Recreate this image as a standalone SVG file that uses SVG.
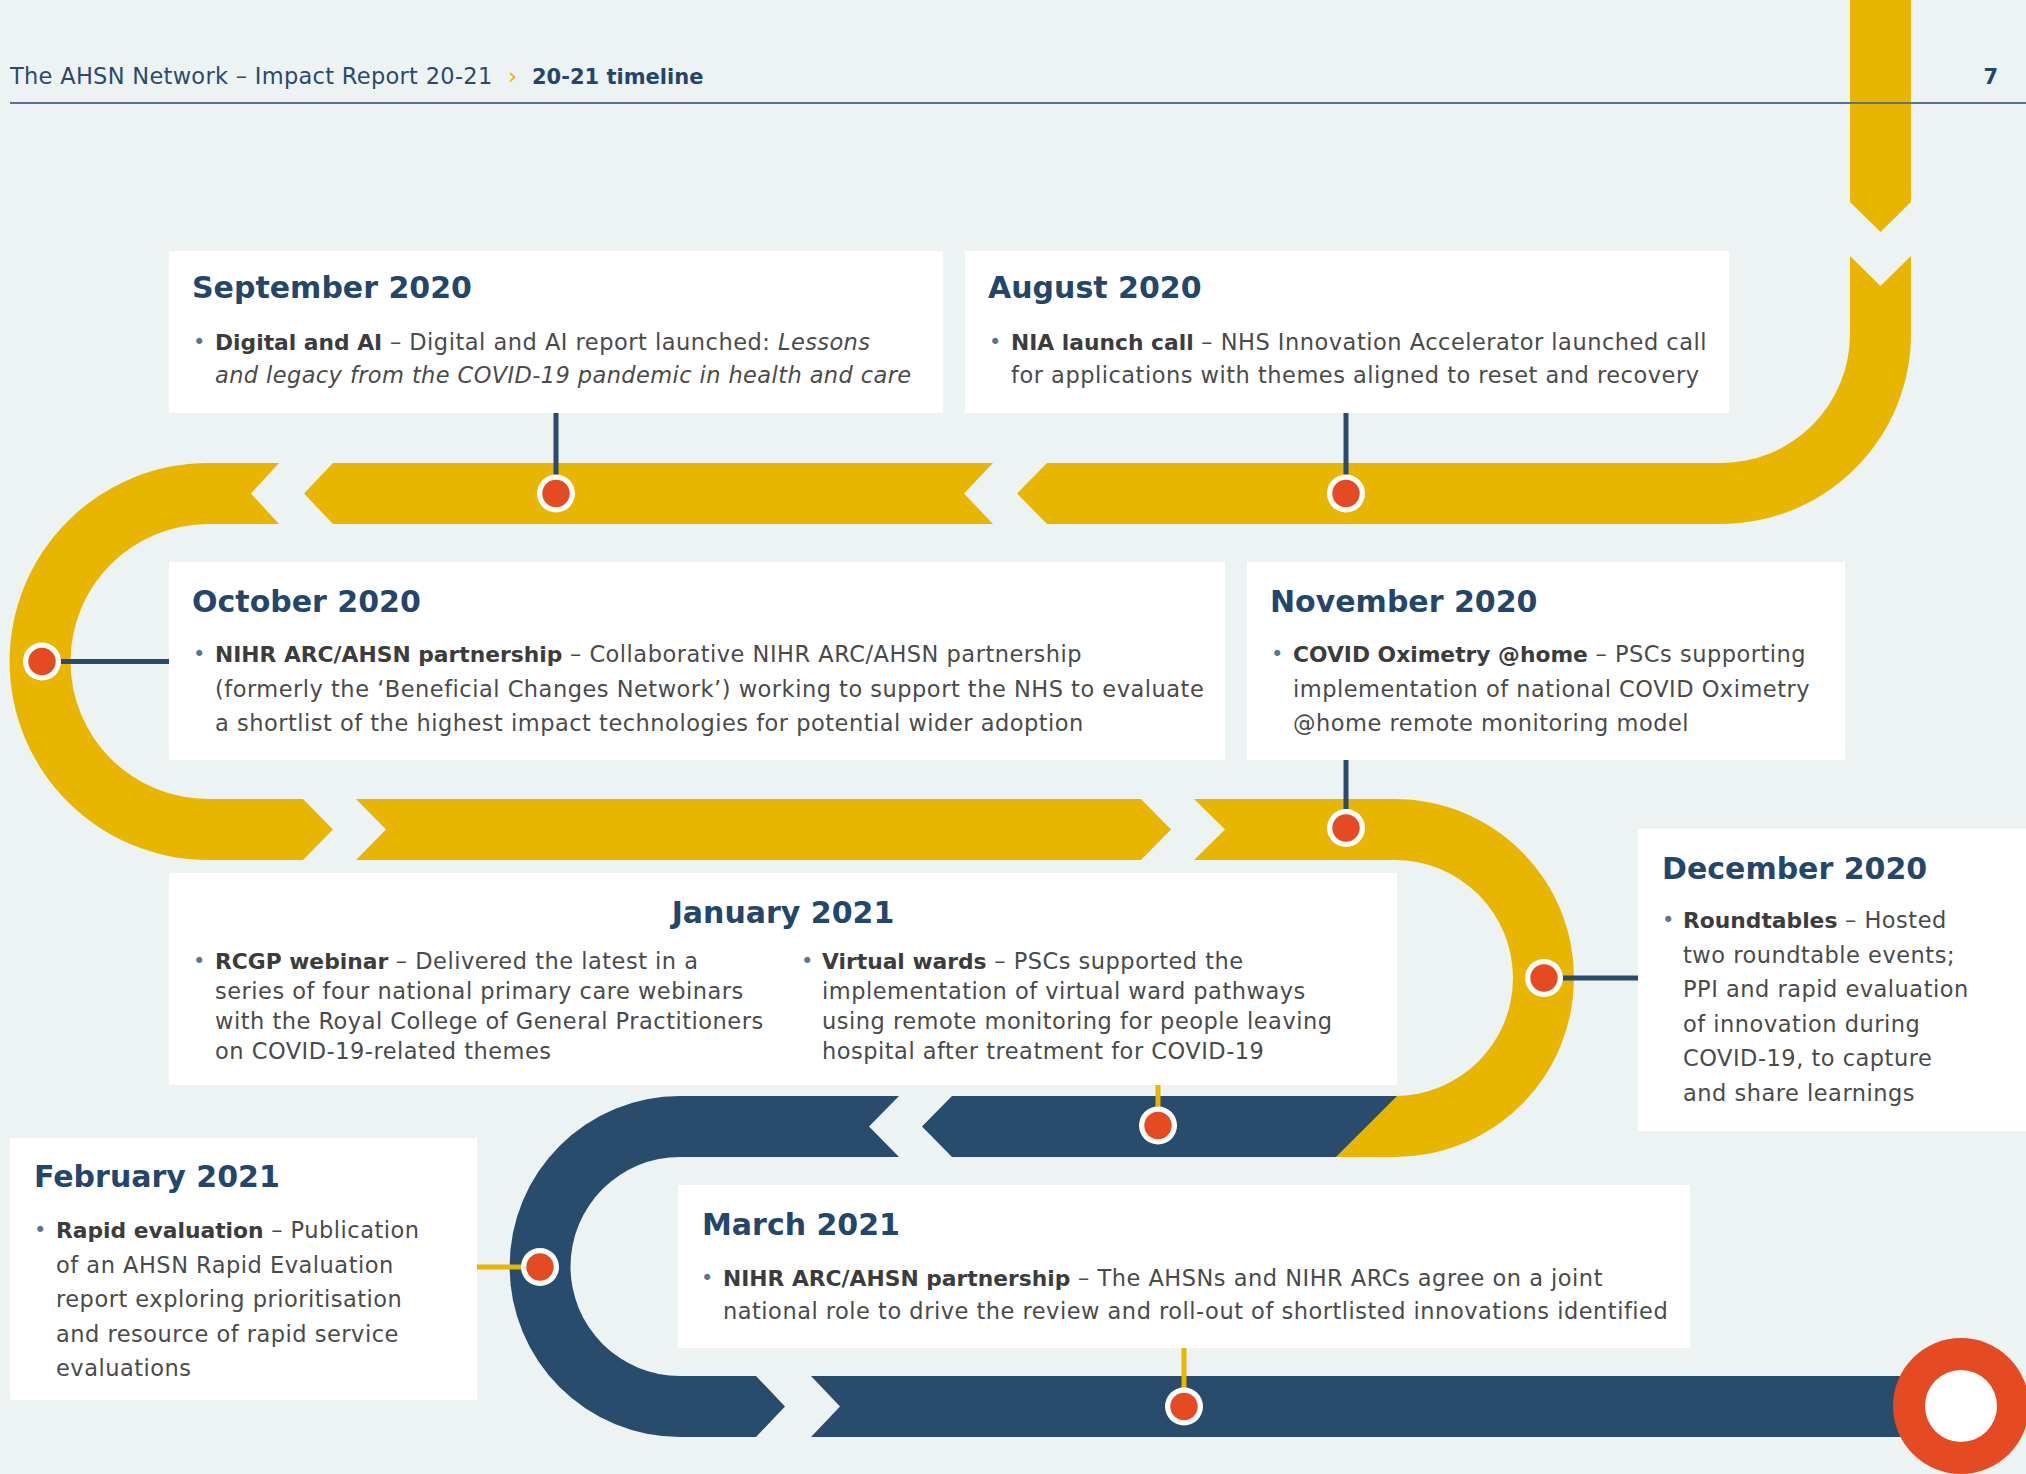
<svg xmlns="http://www.w3.org/2000/svg" width="2026" height="1474" viewBox="0 0 2026 1474">
  <style>
    .bg { fill: #EDF3F3; }
    .yl { fill: #E8B500; }
    .nv { fill: #294B6C; }
    .box { fill: #FFFFFF; }
    .cn { stroke: #294B6C; stroke-width: 5; fill: none; }
    .cy { stroke: #E8B500; stroke-width: 5; fill: none; }
    .dot-o { fill: #FFFFFF; }
    .dot-i { fill: #E54B22; }
    text { font-family: "DejaVu Sans", "Open Sans", sans-serif; }
    .hdr { font-size: 22.5px; letter-spacing: 0.3px; fill: #2B4A6B; }
    .hdrb { font-size: 21px; font-weight: bold; fill: #24466A; }
    .title { font-size: 30px; font-weight: bold; fill: #24466A; }
    .body { font-size: 22.5px; letter-spacing: 0.5px; fill: #4A4A4A; }
    .b { font-size: 21.8px; letter-spacing: 0; font-weight: bold; fill: #3C3C3C; }
    .i { font-style: italic; letter-spacing: 0.4px; }
    .bul { font-size: 21px; fill: #5C7591; }
  </style>

  <rect class="bg" x="0" y="0" width="2026" height="1474"/>

  <!-- timeline track -->
  <g id="track">
    <path class="yl" d="M1850,0 H1911 V202 L1880.5,232 L1850,202 Z"/>
    <path class="yl" d="M1850,256 L1880.5,286 L1911,256 V334 A190,190 0 0 1 1721,524 H1047 L1017,493.5 L1047,463 H1721 A129,129 0 0 0 1850,334 Z"/>
    <path class="yl" d="M993,463 L964,493.5 L993,524 H333 L304,493.5 L333,463 Z"/>
    <path class="yl" d="M279,463 L251,493.5 L279,524 H208 A137.5,137.5 0 0 0 208,799 H303 L333,829.5 L303,860 H208 A198.5,198.5 0 0 1 208,463 Z"/>
    <path class="yl" d="M356,799 L386,829.5 L356,860 H1141 L1171,829.5 L1141,799 Z"/>
    <path class="yl" d="M1194,799 L1225,829.5 L1194,860 H1395 A118,118 0 0 1 1395,1096 L1336,1157 H1395 A179,179 0 0 0 1395,799 Z"/>
    <path class="nv" d="M1397,1096 L1336,1157 H952 L922,1126.5 L952,1096 Z"/>
    <path class="nv" d="M899,1096 L869,1126.5 L899,1157 H680 A109.5,109.5 0 0 0 680,1376 H756 L785,1406.5 L756,1437 H680 A170.5,170.5 0 0 1 680,1096 Z"/>
    <path class="nv" d="M811,1376 L840,1406.5 L811,1437 H1961 V1376 Z"/>
    <circle cx="1961" cy="1406" r="68" fill="#E54B22"/>
    <circle cx="1961" cy="1406" r="36" fill="#FFFFFF"/>
  </g>

  <!-- header -->
  <g id="header">
    <text class="hdr" x="10" y="84">The AHSN Network – Impact Report 20-21</text>
    <text class="hdr" x="508" y="84" style="fill:#E8B500">›</text>
    <text class="hdrb" x="532" y="84">20-21 timeline</text>
    <text class="hdrb" x="1998" y="84" text-anchor="end">7</text>
    <line x1="10" y1="103" x2="2026" y2="103" stroke="#587390" stroke-width="2"/>
  </g>

  <!-- connectors from each entry to its point on the track -->
  <g id="connectors">
    <line class="cn" x1="556" y1="413" x2="556" y2="480"/>
    <line class="cn" x1="1346" y1="413" x2="1346" y2="480"/>
    <line class="cn" x1="50" y1="661.5" x2="169" y2="661.5"/>
    <line class="cn" x1="1346" y1="760" x2="1346" y2="815"/>
    <line class="cn" x1="1550" y1="978" x2="1638" y2="978"/>
    <line class="cy" x1="1158" y1="1085" x2="1158" y2="1112"/>
    <line class="cy" x1="477" y1="1267" x2="530" y2="1267"/>
    <line class="cy" x1="1184" y1="1348" x2="1184" y2="1395"/>
    <g id="points">
      <circle class="dot-o" cx="556" cy="493.5" r="19"/><circle class="dot-i" cx="556" cy="493.5" r="13.7"/>
      <circle class="dot-o" cx="1346" cy="493.5" r="19"/><circle class="dot-i" cx="1346" cy="493.5" r="13.7"/>
      <circle class="dot-o" cx="42" cy="661.5" r="19"/><circle class="dot-i" cx="42" cy="661.5" r="13.7"/>
      <circle class="dot-o" cx="1346" cy="828" r="19"/><circle class="dot-i" cx="1346" cy="828" r="13.7"/>
      <circle class="dot-o" cx="1544" cy="978" r="19"/><circle class="dot-i" cx="1544" cy="978" r="13.7"/>
      <circle class="dot-o" cx="1158" cy="1125.5" r="19"/><circle class="dot-i" cx="1158" cy="1125.5" r="13.7"/>
      <circle class="dot-o" cx="540" cy="1267" r="19"/><circle class="dot-i" cx="540" cy="1267" r="13.7"/>
      <circle class="dot-o" cx="1184" cy="1406.5" r="19"/><circle class="dot-i" cx="1184" cy="1406.5" r="13.7"/>
    </g>
  </g>

  <g id="sep-2020">
    <rect class="box" x="169" y="251" width="774" height="162"/>
    <text class="title" x="192" y="298">September 2020</text>
    <text class="bul" x="193" y="349">•</text>
    <text class="body" x="215" y="350"><tspan class="b">Digital and AI</tspan> – Digital and AI report launched: <tspan class="i">Lessons</tspan></text>
    <text class="body i" x="215" y="383">and legacy from the COVID-19 pandemic in health and care</text>
  </g>

  <g id="aug-2020">
    <rect class="box" x="965" y="251" width="764" height="162"/>
    <text class="title" x="988" y="298">August 2020</text>
    <text class="bul" x="989" y="349">•</text>
    <text class="body" x="1011" y="350"><tspan class="b">NIA launch call</tspan> – NHS Innovation Accelerator launched call</text>
    <text class="body" x="1011" y="383">for applications with themes aligned to reset and recovery</text>
  </g>

  <g id="oct-2020">
    <rect class="box" x="169" y="562" width="1056" height="198"/>
    <text class="title" x="192" y="612">October 2020</text>
    <text class="bul" x="193" y="661">•</text>
    <text class="body" x="215" y="662"><tspan class="b">NIHR ARC/AHSN partnership</tspan> – Collaborative NIHR ARC/AHSN partnership</text>
    <text class="body" x="215" y="696.5">(formerly the ‘Beneficial Changes Network’) working to support the NHS to evaluate</text>
    <text class="body" x="215" y="731">a shortlist of the highest impact technologies for potential wider adoption</text>
  </g>

  <g id="nov-2020">
    <rect class="box" x="1247" y="562" width="598" height="198"/>
    <text class="title" x="1270" y="612">November 2020</text>
    <text class="bul" x="1271" y="661">•</text>
    <text class="body" x="1293" y="662"><tspan class="b">COVID Oximetry @home</tspan> – PSCs supporting</text>
    <text class="body" x="1293" y="696.5">implementation of national COVID Oximetry</text>
    <text class="body" x="1293" y="731">@home remote monitoring model</text>
  </g>

  <g id="dec-2020">
    <rect class="box" x="1638" y="829" width="388" height="302"/>
    <text class="title" x="1662" y="879">December 2020</text>
    <text class="bul" x="1662" y="927">•</text>
    <text class="body" x="1683" y="928"><tspan class="b">Roundtables</tspan> – Hosted</text>
    <text class="body" x="1683" y="962.5">two roundtable events;</text>
    <text class="body" x="1683" y="997">PPI and rapid evaluation</text>
    <text class="body" x="1683" y="1031.5">of innovation during</text>
    <text class="body" x="1683" y="1066">COVID-19, to capture</text>
    <text class="body" x="1683" y="1100.5">and share learnings</text>
  </g>

  <g id="jan-2021">
    <rect class="box" x="169" y="873" width="1228" height="212"/>
    <text class="title" x="783" y="923" text-anchor="middle">January 2021</text>
    <text class="bul" x="193" y="968">•</text>
    <text class="body" x="215" y="969"><tspan class="b">RCGP webinar</tspan> – Delivered the latest in a</text>
    <text class="body" x="215" y="999">series of four national primary care webinars</text>
    <text class="body" x="215" y="1029">with the Royal College of General Practitioners</text>
    <text class="body" x="215" y="1059">on COVID-19-related themes</text>
    <text class="bul" x="801" y="968">•</text>
    <text class="body" x="822" y="969"><tspan class="b">Virtual wards</tspan> – PSCs supported the</text>
    <text class="body" x="822" y="999">implementation of virtual ward pathways</text>
    <text class="body" x="822" y="1029">using remote monitoring for people leaving</text>
    <text class="body" x="822" y="1059">hospital after treatment for COVID-19</text>
  </g>

  <g id="feb-2021">
    <rect class="box" x="10" y="1138" width="467" height="262"/>
    <text class="title" x="34" y="1187">February 2021</text>
    <text class="bul" x="34" y="1237">•</text>
    <text class="body" x="56" y="1238"><tspan class="b">Rapid evaluation</tspan> – Publication</text>
    <text class="body" x="56" y="1272.5">of an AHSN Rapid Evaluation</text>
    <text class="body" x="56" y="1307">report exploring prioritisation</text>
    <text class="body" x="56" y="1341.5">and resource of rapid service</text>
    <text class="body" x="56" y="1376">evaluations</text>
  </g>

  <g id="mar-2021">
    <rect class="box" x="678" y="1185" width="1012" height="163"/>
    <text class="title" x="702" y="1235">March 2021</text>
    <text class="bul" x="701" y="1285">•</text>
    <text class="body" x="723" y="1286"><tspan class="b">NIHR ARC/AHSN partnership</tspan> – The AHSNs and NIHR ARCs agree on a joint</text>
    <text class="body" x="723" y="1319">national role to drive the review and roll-out of shortlisted innovations identified</text>
  </g>
</svg>
